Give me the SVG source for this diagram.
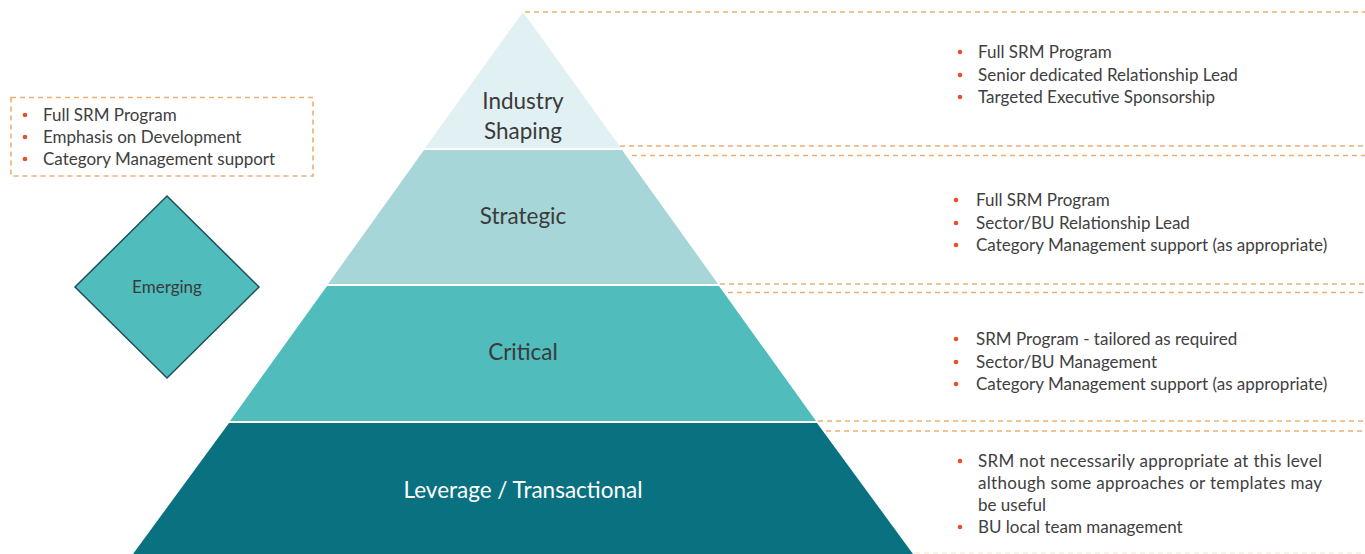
<svg xmlns="http://www.w3.org/2000/svg" width="1365" height="554" viewBox="0 0 1365 554">
  <style>
    .lbl { font-family: Lato, "Open Sans", sans-serif; fill: #3a3a3a; text-anchor: middle; }
    .tier { font-size: 22.5px; }
    .txt { font-family: Lato, "Open Sans", sans-serif; font-size: 17px; fill: #404040; }
    .dot { fill: #E8502A; }
    .dash { stroke: #EBAE72; stroke-width: 1.6; stroke-dasharray: 5 4; fill: none; }
  </style>
  <rect width="1365" height="554" fill="#ffffff"/>

  <!-- pyramid tiers -->
  <g id="tier-industry">
    <polygon points="523,12 621,148 425,148" fill="#E1F0F3"/>
    <text class="lbl tier" x="523" y="109">Industry</text>
    <text class="lbl tier" x="523" y="139">Shaping</text>
  </g>
  <g id="tier-strategic">
    <polygon points="424,150 622,150 718,284 328,284" fill="#A7D6D9"/>
    <text class="lbl tier" x="523" y="224">Strategic</text>
  </g>
  <g id="tier-critical">
    <polygon points="327,286 719,286 816,421 230,421" fill="#50BCBC"/>
    <text class="lbl tier" x="523" y="360">Critical</text>
  </g>
  <g id="tier-leverage">
    <polygon points="229,423 817,423 913,554 133,554" fill="#0A7181"/>
    <text class="lbl tier" x="523" y="498" style="fill:#ffffff">Leverage / Transactional</text>
  </g>

  <!-- dashed guide lines -->
  <g id="connectors">
    <line class="dash" x1="525" y1="12" x2="1365" y2="12"/>
    <line class="dash" x1="620" y1="146" x2="1365" y2="146"/>
    <line class="dash" x1="632" y1="155.5" x2="1365" y2="155.5"/>
    <line class="dash" x1="720" y1="284" x2="1365" y2="284"/>
    <line class="dash" x1="728" y1="292.5" x2="1365" y2="292.5"/>
    <line class="dash" x1="818" y1="421" x2="1365" y2="421"/>
    <line class="dash" x1="826" y1="431" x2="1365" y2="431"/>
    <line class="dash" x1="915" y1="553" x2="1365" y2="553" opacity="0.25"/>
  </g>

  <!-- emerging: side box and diamond -->
  <g id="emerging-box">
    <rect class="dash" x="11" y="97.5" width="302" height="78.5"/>
    <circle class="dot" cx="25" cy="115" r="2.3"/>
    <circle class="dot" cx="25" cy="137" r="2.3"/>
    <circle class="dot" cx="25" cy="159" r="2.3"/>
    <text class="txt" x="43" y="121">Full SRM Program</text>
    <text class="txt" x="43" y="143">Emphasis on Development</text>
    <text class="txt" x="43" y="165">Category Management support</text>
  </g>
  <g id="emerging">
    <polygon points="167,196 259,287 167,378 75,287" fill="#50BCBC" stroke="#1E4F5A" stroke-width="1.5"/>
    <text class="lbl" x="167" y="293" style="font-size:17px">Emerging</text>
  </g>

  <!-- tier descriptions -->
  <g id="notes-industry">
    <circle class="dot" cx="960" cy="52" r="2.3"/>
    <circle class="dot" cx="960" cy="75" r="2.3"/>
    <circle class="dot" cx="960" cy="97" r="2.3"/>
    <text class="txt" x="978" y="58">Full SRM Program</text>
    <text class="txt" x="978" y="81">Senior dedicated Relationship Lead</text>
    <text class="txt" x="978" y="103">Targeted Executive Sponsorship</text>
  </g>
  <g id="notes-strategic">
    <circle class="dot" cx="956" cy="200" r="2.3"/>
    <circle class="dot" cx="956" cy="223" r="2.3"/>
    <circle class="dot" cx="956" cy="245" r="2.3"/>
    <text class="txt" x="976" y="206">Full SRM Program</text>
    <text class="txt" x="976" y="229">Sector/BU Relationship Lead</text>
    <text class="txt" x="976" y="251">Category Management support (as appropriate)</text>
  </g>
  <g id="notes-critical">
    <circle class="dot" cx="956" cy="339" r="2.3"/>
    <circle class="dot" cx="956" cy="362" r="2.3"/>
    <circle class="dot" cx="956" cy="384" r="2.3"/>
    <text class="txt" x="976" y="345">SRM Program - tailored as required</text>
    <text class="txt" x="976" y="368">Sector/BU Management</text>
    <text class="txt" x="976" y="390">Category Management support (as appropriate)</text>
  </g>
  <g id="notes-leverage">
    <circle class="dot" cx="960" cy="461" r="2.3"/>
    <circle class="dot" cx="960" cy="527" r="2.3"/>
    <text class="txt" x="978" y="467" textLength="344" lengthAdjust="spacing">SRM not necessarily appropriate at this level</text>
    <text class="txt" x="978" y="489" textLength="344" lengthAdjust="spacing">although some approaches or templates may</text>
    <text class="txt" x="978" y="511">be useful</text>
    <text class="txt" x="978" y="533">BU local team management</text>
  </g>
</svg>
